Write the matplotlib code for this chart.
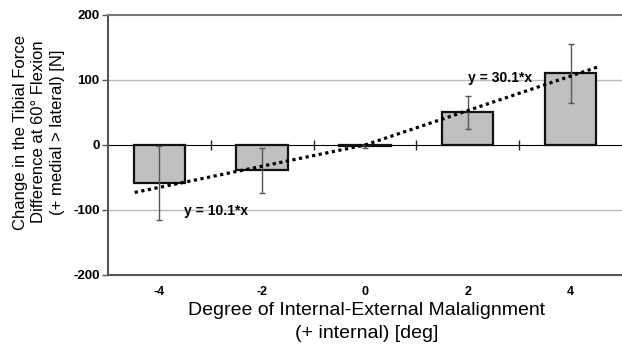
import matplotlib.pyplot as plt

plt.rcParams['font.family'] = ['Liberation Sans', 'DejaVu Sans']

degrees = [-4, -2, 0, 2, 4]
force_change = [-59, -39, -2, 50, 110]
force_err = [57, 35, 2, 26, 45]
tick_labels = ['-4', '-2', '0', '2', '4']

# dotted trend segments (start deg, end deg, slope in N per deg as plotted)
trend_left = [-4.48, 0.0, 16.3]
trend_right = [0.0, 4.55, 26.5]
eq_left = 'y = 10.1*x'
eq_right = 'y = 30.1*x'

ylabel_lines = ['Change in the Tibial Force',
                'Difference at 60° Flexion',
                '(+ medial > lateral) [N]']
xlabel_lines = ['Degree of Internal-External Malalignment',
                '(+ internal) [deg]']

W, H = 622, 347
fig = plt.figure(figsize=(W / 100, H / 100), dpi=100)
ax = fig.add_axes([0.1736, 0.2075, 0.8264, 0.7493])

ax.bar(degrees, force_change, width=1.0, color='#c0c0c0', edgecolor='#111111',
       linewidth=1.6, zorder=3)
ax.errorbar(degrees, force_change, yerr=force_err, fmt='none', ecolor='#555555',
            elinewidth=1.0, capsize=2, capthick=1.0, zorder=4)

for seg in [trend_left, trend_right]:
    xs = [seg[0], seg[1]]
    ys = [seg[0] * seg[2], seg[1] * seg[2]]
    ax.plot(xs, ys, color='black', linewidth=2.3, linestyle=(0, (1, 1.1)), zorder=5)

ax.text(-2.9, -102, eq_left, fontsize=10, fontweight='bold', ha='center', va='center', zorder=6)
ax.text(2.63, 103, eq_right, fontsize=10, fontweight='bold', ha='center', va='center', zorder=6)

ax.set_xlim(-5, 5)
ax.set_ylim(-200, 200)
ax.set_xticks(degrees)
ax.set_xticklabels(tick_labels, fontsize=9, fontweight='bold')
ax.set_yticks([-200, -100, 0, 100, 200])
ax.set_yticklabels(['-200', '-100', '0', '100', '200'], fontsize=9.5, fontweight='bold')
ax.tick_params(axis='x', length=0, pad=8)
ax.tick_params(axis='y', length=4, width=1, color='#555555', pad=2)

for y in [100, -100]:
    ax.axhline(y, color='#bbbbbb', linewidth=1, zorder=1)

ax.spines['right'].set_visible(False)
ax.spines['top'].set_color('#777777')
ax.spines['top'].set_linewidth(1.5)
ax.spines['bottom'].set_color('#555555')
ax.spines['bottom'].set_linewidth(1.5)
ax.spines['left'].set_color('#555555')
ax.spines['left'].set_linewidth(1.5)

# zero line with ticks between categories
zero_axis = ax.secondary_xaxis(0.5)
zero_axis.set_xticks([-3, -1, 1, 3])
zero_axis.set_xticklabels([])
zero_axis.tick_params(direction='inout', length=7, width=1, color='#222222')
zero_axis.spines['bottom'].set_color('#222222')
zero_axis.spines['bottom'].set_linewidth(1.2)
zero_axis.spines['bottom'].set_zorder(2)

# axis titles, one line at a time
for i, line in enumerate(ylabel_lines):
    fig.text((25 + 18.5 * i) / W, 1 - 132 / H, line, rotation=90, rotation_mode='anchor',
             ha='center', va='baseline', fontsize=12)
for i, line in enumerate(xlabel_lines):
    fig.text(367 / W, 1 - (315 + 23 * i) / H, line, ha='center', va='baseline', fontsize=14)

fig.savefig('out.png', dpi=100)
